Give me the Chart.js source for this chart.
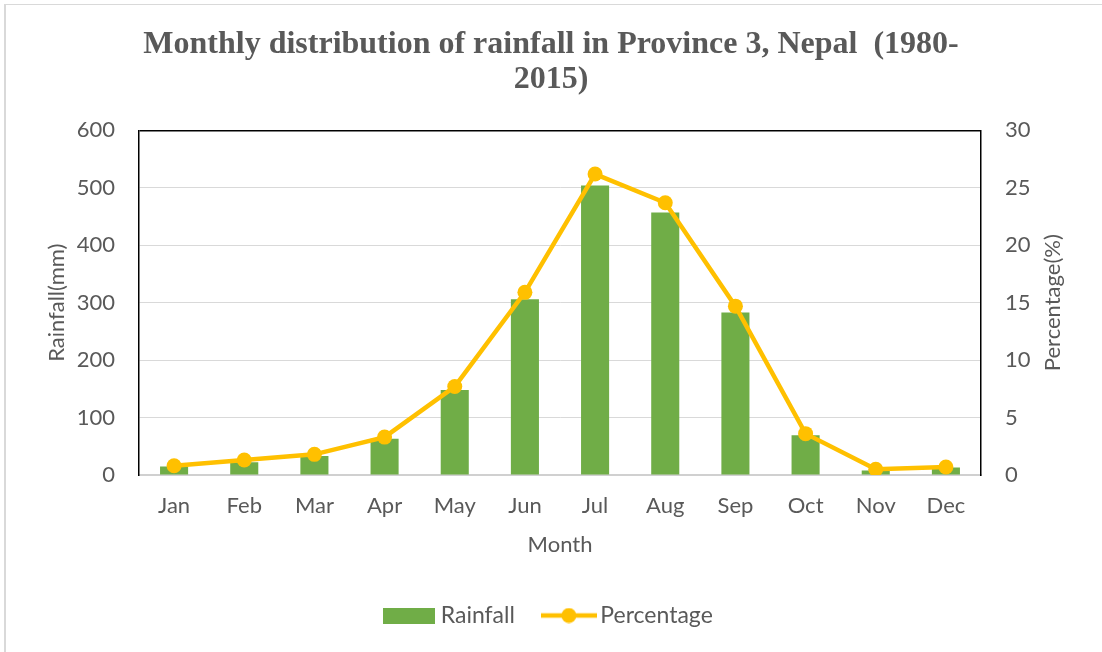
<!DOCTYPE html>
<html>
<head>
<meta charset="utf-8">
<script src="https://cdn.jsdelivr.net/npm/chart.js@4"></script>
<style>
  body { margin: 0; background: #fff; overflow: hidden; }
  #wrap { position: relative; width: 1102px; height: 652px; }
  #frame {
    position: absolute; left: 4px; top: 4px; width: 1096px; height: 660px;
    border-left: 2px solid #d9d9d9; border-top: 1px solid #d9d9d9; border-right: 1px solid #d9d9d9;
    pointer-events: none;
  }
</style>
</head>
<body>
<div id="wrap">
  <canvas id="chart" width="1102" height="652"></canvas>
  <div id="frame"></div>
</div>
<script>
const months = ["Jan", "Feb", "Mar", "Apr", "May", "Jun", "Jul", "Aug", "Sep", "Oct", "Nov", "Dec"];
const rainfall = [15, 22, 33, 63, 148, 306, 504, 457, 283, 69, 8, 13];
const percentage = [0.8, 1.3, 1.8, 3.3, 7.7, 15.9, 26.2, 23.7, 14.7, 3.6, 0.5, 0.7];

const gray = "#595959";
const green = "#70AD47";
const gold = "#FFC000";
const tickFont = { family: "Lato", size: 22 };
const legendFont = { family: "Lato", size: 23 };

// legend swatches drawn on small canvases
function swatch(kind) {
  const c = document.createElement("canvas");
  c.width = kind === "bar" ? 52 : 56;
  c.height = 16;
  const g = c.getContext("2d");
  if (kind === "bar") {
    g.fillStyle = green;
    g.fillRect(0, 0, 52, 16);
  } else {
    g.strokeStyle = gold;
    g.lineWidth = 4.5;
    g.beginPath();
    g.moveTo(0, 8);
    g.lineTo(56, 8);
    g.stroke();
    g.fillStyle = gold;
    g.beginPath();
    g.arc(28, 8, 7.5, 0, Math.PI * 2);
    g.fill();
  }
  return c;
}

// right axis title reads bottom-to-top like the left one
const rightTitle = {
  id: "rightTitle",
  afterDraw(chart) {
    const s = chart.scales.y1;
    const c = chart.ctx;
    c.save();
    c.translate(1053, (s.top + s.bottom) / 2);
    c.rotate(-Math.PI / 2);
    c.fillStyle = gray;
    c.font = "22px Lato";
    c.textAlign = "center";
    c.textBaseline = "middle";
    c.fillText("Percentage(%)", 0, 0);
    c.restore();
  },
};

const ctx = document.getElementById("chart").getContext("2d");
new Chart(ctx, {
  type: "bar",
  data: {
    labels: months,
    datasets: [
      {
        label: "Rainfall",
        data: rainfall,
        backgroundColor: green,
        barPercentage: 0.4,
        categoryPercentage: 1,
        yAxisID: "y",
        order: 2,
      },
      {
        type: "line",
        label: "Percentage",
        data: percentage,
        borderColor: gold,
        backgroundColor: gold,
        borderWidth: 4.5,
        pointRadius: 7.5,
        pointBorderWidth: 0,
        pointBackgroundColor: gold,
        tension: 0,
        yAxisID: "y1",
        order: 1,
      },
    ],
  },
  plugins: [rightTitle],
  options: {
    responsive: false,
    devicePixelRatio: 1,
    animation: false,
    layout: { padding: { top: 0, left: 0, right: 0, bottom: 15 } },
    plugins: {
      tooltip: { enabled: false },
      title: {
        display: true,
        text: ["Monthly distribution of rainfall in Province 3, Nepal  (1980-", "2015)"],
        color: gray,
        font: { family: "Liberation Serif", size: 32, weight: "bold", lineHeight: 1.1 },
        padding: { top: 27, bottom: 33 },
      },
      legend: {
        position: "bottom",
        labels: {
          usePointStyle: true,
          pointStyleWidth: 40,
          color: gray,
          font: legendFont,
          padding: 34,
          generateLabels: function (chart) {
            return chart.data.datasets.map((ds, i) => ({
              text: ds.label,
              pointStyle: swatch(i === 0 ? "bar" : "line"),
              fontColor: gray,
              datasetIndex: i,
              hidden: false,
              lineWidth: 0,
            }));
          },
        },
      },
    },
    scales: {
      x: {
        grid: { display: false },
        border: { color: "#d0d0d0", width: 2 },
        ticks: { color: gray, font: tickFont, padding: 10 },
        title: { display: true, text: "Month", color: gray, font: tickFont, padding: { top: 0, bottom: 12 } },
        afterFit: function (scale) {
          scale.height = 95;
        },
      },
      y: {
        position: "left",
        min: 0,
        max: 600,
        ticks: { stepSize: 100, color: gray, font: tickFont, padding: 24 },
        grid: {
          drawTicks: false,
          color: (c) => (c.tick && c.tick.value === 600 ? "#000" : "#d9d9d9"),
          lineWidth: (c) => (c.tick && c.tick.value === 600 ? 1.5 : 1),
        },
        border: { color: "#000", width: 1.5 },
        title: { display: true, text: "Rainfall(mm)", color: gray, font: tickFont, padding: { top: 44 } },
        afterFit: function (scale) {
          scale.width = 139;
        },
      },
      y1: {
        position: "right",
        min: 0,
        max: 30,
        ticks: { stepSize: 5, color: gray, font: tickFont, padding: 24 },
        grid: { display: false, drawTicks: false },
        border: { color: "#000", width: 1.5 },
        afterFit: function (scale) {
          scale.width = 121;
        },
      },
    },
  },
});
</script>
</body>
</html>
